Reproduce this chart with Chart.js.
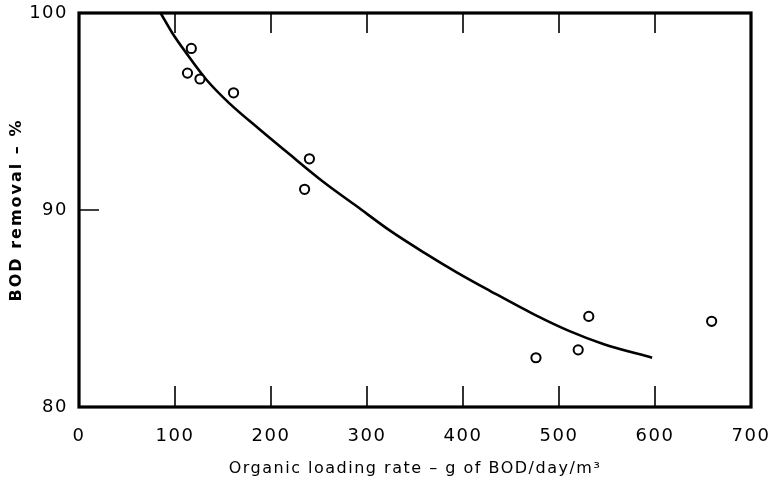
<!DOCTYPE html>
<html>
<head>
<meta charset="utf-8">
<script src="https://cdn.jsdelivr.net/npm/chart.js@4.4.1/dist/chart.umd.min.js"></script>
<style>
  html, body { margin: 0; padding: 0; background: #fff; }
  canvas { display: block; }
</style>
</head>
<body>
<canvas id="bodChart" width="771" height="491"></canvas>
<script>
// measured samples (organic loading rate vs BOD removal)
const sampleLoading = [113, 117, 126, 161, 235, 240, 476, 520, 531, 659];
const sampleRemoval = [96.95, 98.2, 96.65, 95.95, 91.05, 92.6, 82.5, 82.9, 84.6, 84.35];

// fitted curve
const curveLoading = [85, 97, 112, 133, 157, 188, 220, 254, 289, 324, 359, 393, 428, 476, 511, 546, 597];
const curveRemoval = [100, 99.0, 97.95, 96.6, 95.4, 94.1, 92.8, 91.45, 90.2, 88.95, 87.85, 86.85, 85.9, 84.65, 83.85, 83.2, 82.5];

// inward tick marks on the frame
const xTickMarks = [100, 200, 300, 400, 500, 600];
const yTickMarks = [90];

const ctx = document.getElementById('bodChart').getContext('2d');

// Draws the heavy frame and the short inward tick marks
const frameTicks = {
    id: 'frameTicks',
    afterLayout(chart) {
        // wider spacing for the rotated y title, like the lettering
        const y = chart.scales.y;
        if (!y._spaced) {
            const orig = y.drawTitle;
            y.drawTitle = function () {
                this.ctx.letterSpacing = '2px';
                orig.apply(this, arguments);
                this.ctx.letterSpacing = '1.5px';
            };
            y._spaced = true;
        }
    },
    beforeDraw(chart) {
        chart.ctx.letterSpacing = '1.5px';
    },
    afterDatasetsDraw(chart) {
        const { ctx, chartArea: a, scales } = chart;
        ctx.save();
        ctx.strokeStyle = '#000';
        ctx.lineWidth = 1.6;
        ctx.beginPath();
        xTickMarks.forEach(v => {
            const px = scales.x.getPixelForValue(v);
            ctx.moveTo(px, a.bottom);
            ctx.lineTo(px, a.bottom - 21);
            ctx.moveTo(px, a.top);
            ctx.lineTo(px, a.top + 20);
        });
        yTickMarks.forEach(v => {
            const py = scales.y.getPixelForValue(v);
            ctx.moveTo(a.left, py);
            ctx.lineTo(a.left + 20, py);
        });
        ctx.stroke();
        ctx.lineWidth = 3.2;
        ctx.strokeRect(a.left, a.top, a.right - a.left, a.bottom - a.top);
        ctx.restore();
    }
};

new Chart(ctx, {
    type: 'scatter',
    data: {
        datasets: [{
            label: 'Samples',
            data: sampleLoading.map((x, i) => ({ x: x, y: sampleRemoval[i] })),
            pointRadius: 4.6,
            pointBorderWidth: 2,
            pointBackgroundColor: '#fff',
            pointBorderColor: '#000',
            order: 1
        }, {
            type: 'line',
            label: 'Fit',
            data: curveLoading.map((x, i) => ({ x: x, y: curveRemoval[i] })),
            borderColor: '#000',
            borderWidth: 2.6,
            pointRadius: 0,
            fill: false,
            cubicInterpolationMode: 'monotone',
            order: 2
        }]
    },
    options: {
        responsive: false,
        animation: false,
        layout: { padding: { left: 0, right: 20, top: 13, bottom: 0 } },
        plugins: {
            legend: { display: false },
            tooltip: { enabled: false }
        },
        scales: {
            x: {
                type: 'linear',
                min: 0,
                max: 700,
                afterFit(scale) {
                    scale.height = 84;
                    scale.paddingLeft = 0;
                    scale.paddingRight = 0;
                },
                grid: { display: false, drawTicks: false },
                border: { display: false },
                ticks: {
                    stepSize: 100,
                    padding: 19,
                    color: '#000',
                    font: { family: 'DejaVu Sans', size: 18 }
                },
                title: {
                    display: true,
                    text: 'Organic loading rate \u2013 g of BOD/day/m\u00B3',
                    color: '#000',
                    font: { family: 'DejaVu Sans', size: 16 },
                    padding: { top: 0, bottom: 13 }
                }
            },
            y: {
                type: 'linear',
                min: 80,
                max: 100,
                afterFit(scale) {
                    scale.width = 79;
                    scale.paddingTop = 0;
                    scale.paddingBottom = 0;
                },
                grid: { display: false, drawTicks: false },
                border: { display: false },
                ticks: {
                    stepSize: 10,
                    padding: 11,
                    color: '#000',
                    font: { family: 'DejaVu Sans', size: 18 }
                },
                title: {
                    display: true,
                    text: 'BOD removal \u2013 %',
                    color: '#000',
                    font: { family: 'DejaVu Sans', size: 16, weight: 'bold' },
                    padding: { top: 7, bottom: 0 }
                }
            }
        }
    },
    plugins: [frameTicks]
});
</script>
</body>
</html>
